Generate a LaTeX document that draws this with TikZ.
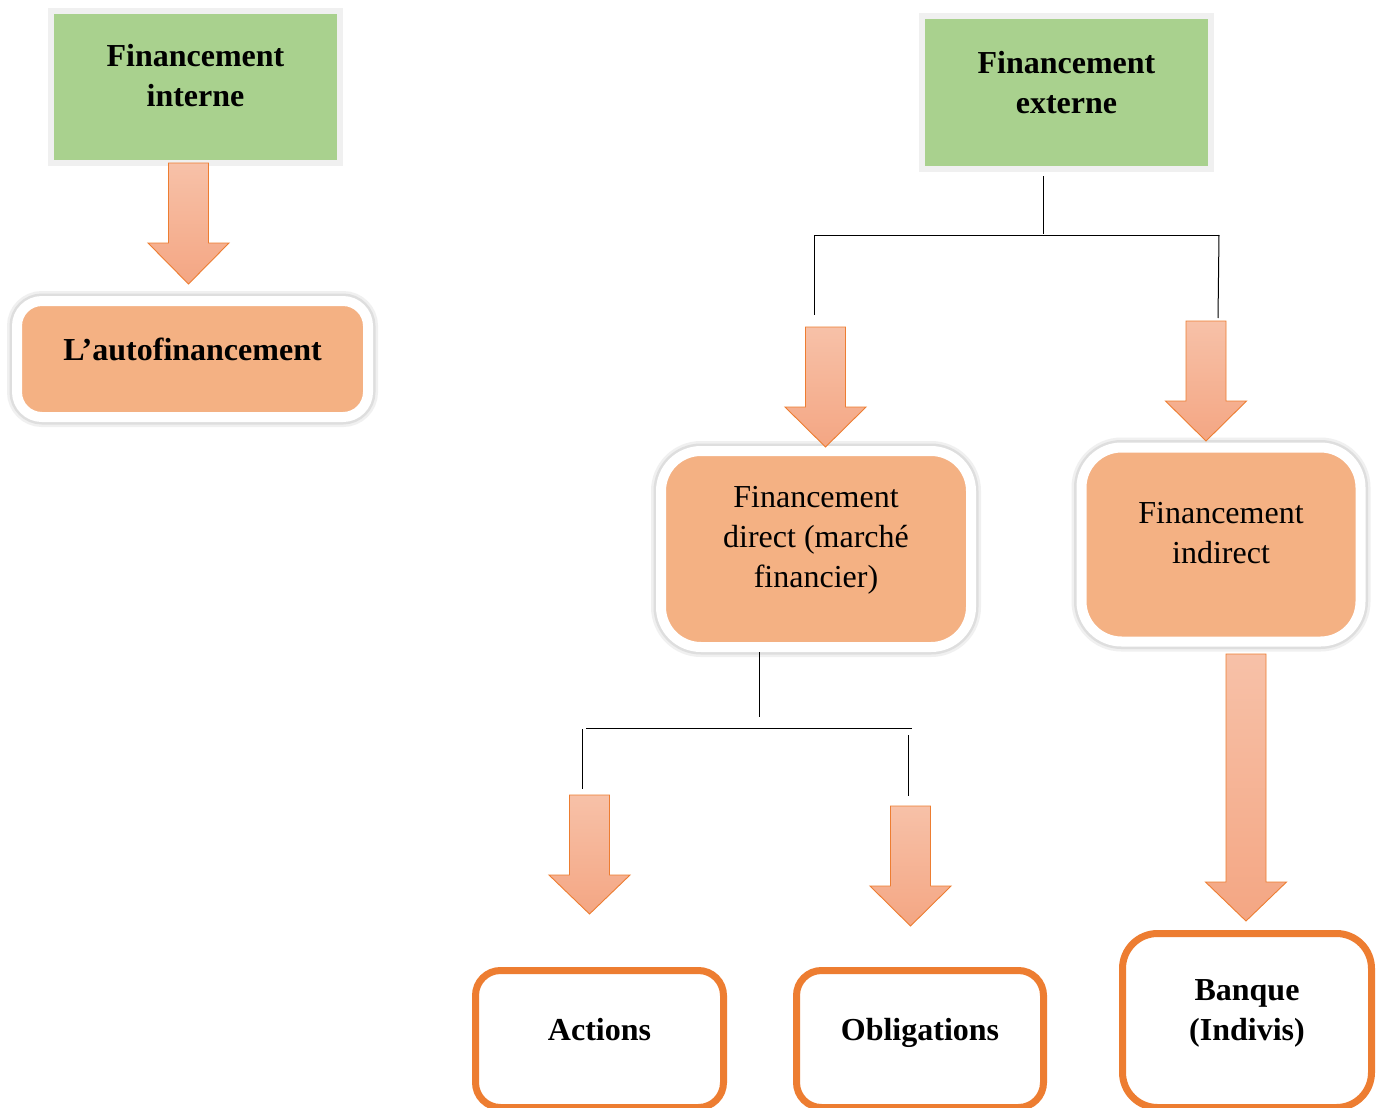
\documentclass[tikz,border=0pt]{standalone}
\usepackage{fontspec}
\setmainfont{Liberation Serif}
\definecolor{boxgreen}{HTML}{A9D18E}
\definecolor{greenframe}{HTML}{F0F0F0}
\definecolor{boxorange}{HTML}{F4B183}
\definecolor{strokeorange}{HTML}{ED7D31}
\definecolor{arrowtop}{HTML}{F7C1A8}
\definecolor{arrowbot}{HTML}{F4A683}
\tikzset{
  txt/.style={font=\fontsize{32}{40}\selectfont, align=center, inner sep=0pt},
  gbox/.style={rectangle, fill=boxgreen, draw=greenframe, line width=6pt, inner sep=0pt, outer sep=0pt},
  obox/.style={rectangle, rounded corners=#1, fill=boxorange, draw=white, line width=10pt,
    inner sep=0pt, outer sep=0pt,
    preaction={draw=black!6, line width=20pt},
    preaction={draw=black!13, line width=15pt}},
  wbox/.style={rectangle, rounded corners=#1, fill=white, draw=strokeorange, line width=7pt,
    inner sep=0pt, outer sep=0pt},
  barrow/.style={draw=strokeorange, line width=0.9pt, line join=miter,
    top color=arrowtop, bottom color=arrowbot},
  link/.style={draw=black, line width=1pt}
}
% block arrow pointing down: name, centre x, top y, neck y, tip y
\newcommand\blockarrow[5]{%
  \path[barrow] (#2-20,#3) -- (#2+20,#3) -- (#2+20,#4) -- (#2+40.5,#4)
    -- (#2,#5) -- (#2-40.5,#4) -- (#2-20,#4) -- cycle;
  \coordinate (#1) at (#2,#5);}
\begin{document}
\begin{tikzpicture}[x=1pt, y=-1pt]
\useasboundingbox[fill=white] (0,0) rectangle (1382,1108);

% green headers
\node[gbox, minimum width=289pt, minimum height=152pt,
  label={[txt, yshift=11pt]center:\bfseries Financement\\\bfseries interne}] (int) at (195.5,87) {};
\node[gbox, minimum width=289pt, minimum height=153pt,
  label={[txt, yshift=10pt]center:\bfseries Financement\\\bfseries externe}] (ext) at (1066.5,92.5) {};

% internal branch
\node[obox=25pt, minimum width=351pt, minimum height=116pt,
  label={[txt, yshift=10pt]center:\bfseries L’autofinancement}] (auto) at (192.5,359) {};

% external branch connectors
\coordinate (e0) at (1043,176);
\coordinate (e1) at (1043,234);
\coordinate (bl) at (814,235);
\coordinate (br) at (1219,235);
\coordinate (dl) at (814,315);
\coordinate (dr) at (1218,318);
\draw[link] (e0) -- (e1);
\draw[link] (bl) -- (br);
\draw[link] (bl) -- (dl);
\draw[link] (br) -- (dr);

\node[obox=40pt, minimum width=310pt, minimum height=196pt,
  label={[txt, yshift=8.5pt]center:Financement\\direct (marché\\financier)}] (dir) at (816,549) {};
\node[obox=40pt, minimum width=279pt, minimum height=194pt,
  label={[txt, yshift=11.5pt]center:Financement\\indirect}] (ind) at (1221,544.5) {};

% direct financing connectors
\coordinate (f0) at (759,652);
\coordinate (f1) at (759,717);
\coordinate (gl) at (586,728);
\coordinate (gr) at (912,728);
\coordinate (hl0) at (582,729);
\coordinate (hl) at (582,789);
\coordinate (hr0) at (908,735);
\coordinate (hr) at (908,796);
\draw[link] (f0) -- (f1);
\draw[link] (gl) -- (gr);
\draw[link] (hl0) -- (hl);
\draw[link] (hr0) -- (hr);

% leaves
\node[wbox=25pt, minimum width=248pt, minimum height=137pt,
  label={[txt, yshift=9pt]center:\bfseries Actions}] (act) at (599.5,1039) {};
\node[wbox=25pt, minimum width=247pt, minimum height=137pt,
  label={[txt, yshift=6pt]center:\bfseries Obligations}] (obl) at (920,1039) {};
\node[wbox=35pt, minimum width=249pt, minimum height=174pt,
  label={[txt, yshift=7pt]center:\bfseries Banque\\\bfseries (Indivis)}] (bnk) at (1247,1020.5) {};

% block arrows, drawn over the boxes they point at
\blockarrow{a1}{188.5}{163}{243}{284}
\blockarrow{a2}{825.5}{327}{407}{447}
\blockarrow{a3}{1206}{321}{401}{441}
\blockarrow{a4}{589.5}{795}{875}{914}
\blockarrow{a5}{910.5}{806}{886}{926}
\blockarrow{a6}{1246}{654}{882}{921}
\end{tikzpicture}
\end{document}
